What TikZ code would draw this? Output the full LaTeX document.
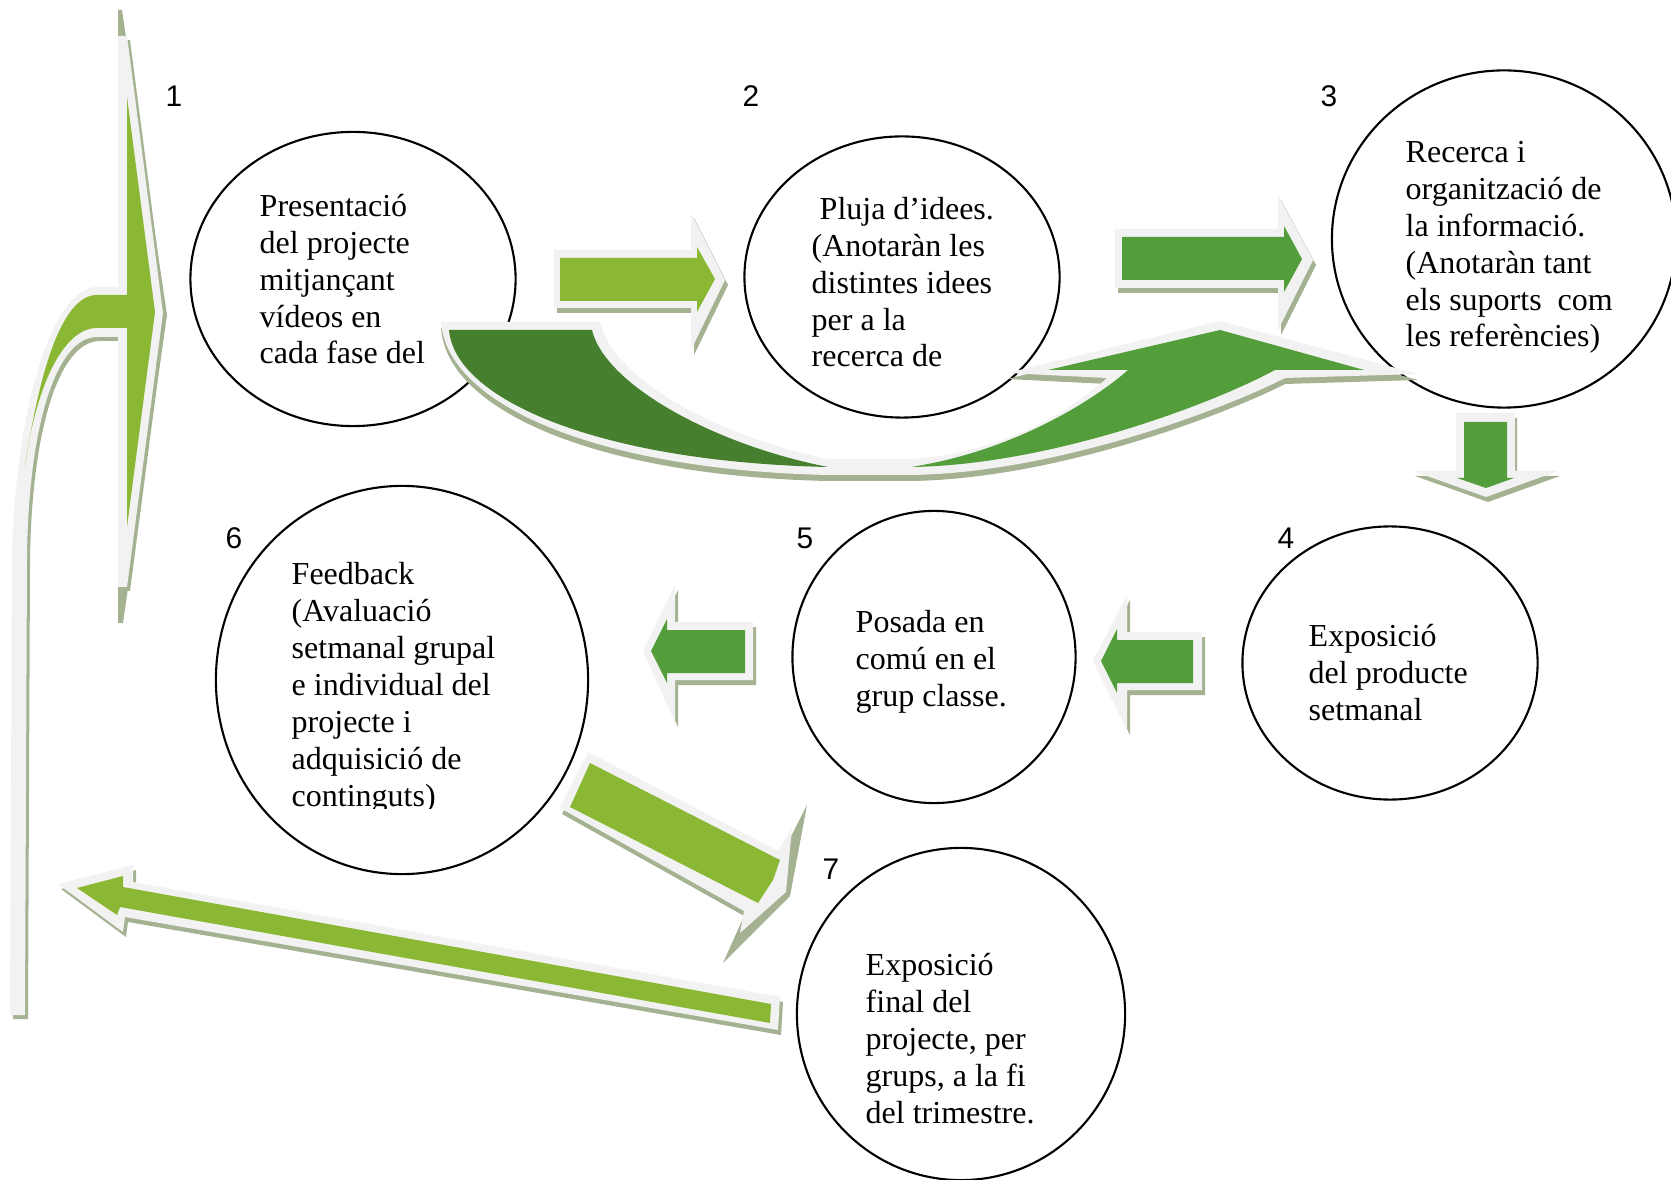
\documentclass[tikz,border=0pt]{standalone}
\usepackage{fontspec}
\setmainfont{Liberation Serif}
\newfontfamily\numfont{Liberation Sans}
\usetikzlibrary{shapes.geometric}
\definecolor{leaf}{HTML}{8BB834}
\definecolor{fern}{HTML}{539E3A}
\definecolor{moss}{HTML}{46802E}
\definecolor{rimgray}{HTML}{F2F2F2}
\definecolor{dropgray}{HTML}{A5B292}
% block arrow: drop shadow, light rim, green body
\newcommand\blockarrow[4][3,5]{%
  \fill[dropgray, shift={(#1)}] #2;
  \fill[rimgray] #2;
  \fill[#4] #3;}

\begin{document}
\begin{tikzpicture}[x=0.01cm, y=-0.01cm,
  stage/.style={ellipse, draw, line width=0.6pt, fill=white, inner sep=0pt},
  stagetext/.style={anchor=base west, align=left, inner sep=0pt, font=\fontsize{9.1}{10.5}\selectfont},
  stagenum/.style={inner sep=0pt, font=\numfont\fontsize{8.5}{10}\selectfont}]
	\useasboundingbox (0,0) rectangle (1671,1180);
	% stages
	\node[stage, minimum width=3.25cm, minimum height=2.94cm] (c1) at (353,279) {};
	\node[stage, minimum width=3.15cm, minimum height=2.81cm] (c2) at (902,277) {};
	\node[stage, minimum width=3.44cm, minimum height=3.37cm] (c3) at (1504,239) {};
	\node[stage, minimum width=2.95cm, minimum height=2.73cm] (c4) at (1390,663) {};
	\node[stage, minimum width=2.83cm, minimum height=2.92cm] (c5) at (934,657) {};
	\node[stage, minimum width=3.72cm, minimum height=3.88cm] (c6) at (402,680) {};
	\node[stage, minimum width=3.28cm, minimum height=3.32cm] (c7) at (961,1014) {};
	% u-turn from 1 to 3
	\blockarrow[0,6]{(441,322) -- (600,322) .. controls (613,380) and (720,437) .. (828,459) -- (911,459) .. controls (1015,452) and (1080,402) .. (1107,378) -- (1007,373) -- (1220,321) -- (1418,374) -- (1285,378) .. controls (1218,412) and (1052,473) .. (911,475) -- (828,475) .. controls (598,470) and (447,405) .. (441,322) -- cycle}{(449,330) -- (592,330) .. controls (605,385) and (715,445) .. (828,467) .. controls (600,462) and (455,400) .. (449,330) -- cycle}{moss}
	\fill[fern] (911,467) .. controls (1050,465) and (1210,405) .. (1275,370) -- (1364,370) -- (1220,330) -- (1048,370) -- (1128,370) .. controls (1100,395) and (1020,450) .. (911,467) -- cycle;
	% straight arrows
	\blockarrow{(554,250) -- (691,250) -- (691,213) -- (725,280) -- (691,350) -- (691,308) -- (554,308) -- cycle}{(560,258) -- (697,258) -- (697,247) -- (715,279) -- (697,312) -- (697,301) -- (560,301) -- cycle}{leaf}
	\blockarrow{(1115,229) -- (1278,229) -- (1278,195) -- (1313,260) -- (1278,330) -- (1278,288) -- (1115,288) -- cycle}{(1122,237) -- (1284,237) -- (1284,226) -- (1302,259) -- (1284,292) -- (1284,280) -- (1122,280) -- cycle}{fern}
	\blockarrow[2,5]{(1456,413) -- (1515,413) -- (1515,471) -- (1558,471) -- (1486,497) -- (1413,471) -- (1456,471) -- cycle}{(1464,422) -- (1507,422) -- (1507,478) -- (1514,478) -- (1486,488) -- (1457,478) -- (1464,478) -- cycle}{fern}
	\blockarrow{(1202,632) -- (1202,690) -- (1127,690) -- (1127,730) -- (1093,661) -- (1127,595) -- (1127,632) -- cycle}{(1193,640) -- (1193,683) -- (1117,683) -- (1117,693) -- (1101,661) -- (1117,629) -- (1117,640) -- cycle}{fern}
	\blockarrow{(753,622) -- (753,680) -- (675,680) -- (675,722) -- (643,651) -- (675,585) -- (675,622) -- cycle}{(745,630) -- (745,673) -- (667,673) -- (667,683) -- (651,651) -- (667,619) -- (667,630) -- cycle}{fern}
	% from 6 down to 7
	\fill[dropgray] (807,805) -- (790,896) -- (723,963) -- (744,916) -- (781,856) -- cycle;
	\blockarrow[2,6]{(588,752) -- (778,851) -- (792,827) -- (786,892) -- (740,933) -- (744,911) -- (560,808) -- cycle}{(590,763) -- (780,860) -- (773,880) -- (758,903) -- (570,807) -- cycle}{leaf}
	% from 7 back to the left
	\blockarrow{(780,997) -- (133,882) -- (133,865) -- (58,884) -- (123,932) -- (125,917) -- (778,1030) -- cycle}{(771,1004) -- (123,887) -- (123,876) -- (77,888) -- (117,915) -- (120,907) -- (770,1023) -- cycle}{leaf}
	% bent arrow up to 1
	\fill[dropgray] (118,10) -- (122,10) -- (167,315) -- (123,623) -- (118,623) -- cycle;
	\blockarrow[3,4]{(10,1015) -- (12,560) .. controls (14,420) and (50,287) .. (97,287) -- (118,287) -- (118,36) -- (127,36) -- (163,313) -- (127,587) -- (118,587) -- (118,337) -- (97,337) .. controls (55,337) and (28,430) .. (27,560) -- (25,1015) -- cycle}{(25,467) .. controls (38,380) and (60,295) .. (97,295) -- (127,295) -- (127,97) -- (155,312) -- (127,527) -- (127,328) -- (97,328) .. controls (62,328) and (35,390) .. (25,467) -- cycle}{leaf}
	% texts (base = last line)
	\node[stagetext] (t1) at (259,364) {Presentació\\del projecte\\mitjançant\\vídeos en\\cada fase del};
	\node[stagetext] (t2) at (811,367) {\ Pluja d’idees.\\(Anotaràn les\\distintes idees\\per a la\\recerca de};
	\node[stagetext] (t3) at (1405,347) {Recerca i\\organització de\\la informació.\\(Anotaràn tant\\els suports~ com\\les referències)};
	\node[stagetext] (t4) at (1308,720) {Exposició\\del producte\\setmanal};
	\node[stagetext] (t5) at (855,706) {Posada en\\comú en el\\grup classe.};
	\begin{scope}
		\clip (200,480) rectangle (600,808);
		\node[stagetext] (t6) at (291,806) {Feedback\\(Avaluació\\setmanal grupal\\e individual del\\projecte i\\adquisició de\\continguts)};
	\end{scope}
	\node[stagetext] (t7) at (865,1123) {Exposició\\final del\\projecte, per\\grups, a la fi\\del trimestre.};
	% numbers
	\node[stagenum] (n1) at (174,96) {1};
	\node[stagenum] (n2) at (751,96) {2};
	\node[stagenum] (n3) at (1329,96) {3};
	\node[stagenum] (n4) at (1286,538) {4};
	\node[stagenum] (n5) at (805,538) {5};
	\node[stagenum] (n6) at (234,538) {6};
	\node[stagenum] (n7) at (831,869) {7};
\end{tikzpicture}
\end{document}
